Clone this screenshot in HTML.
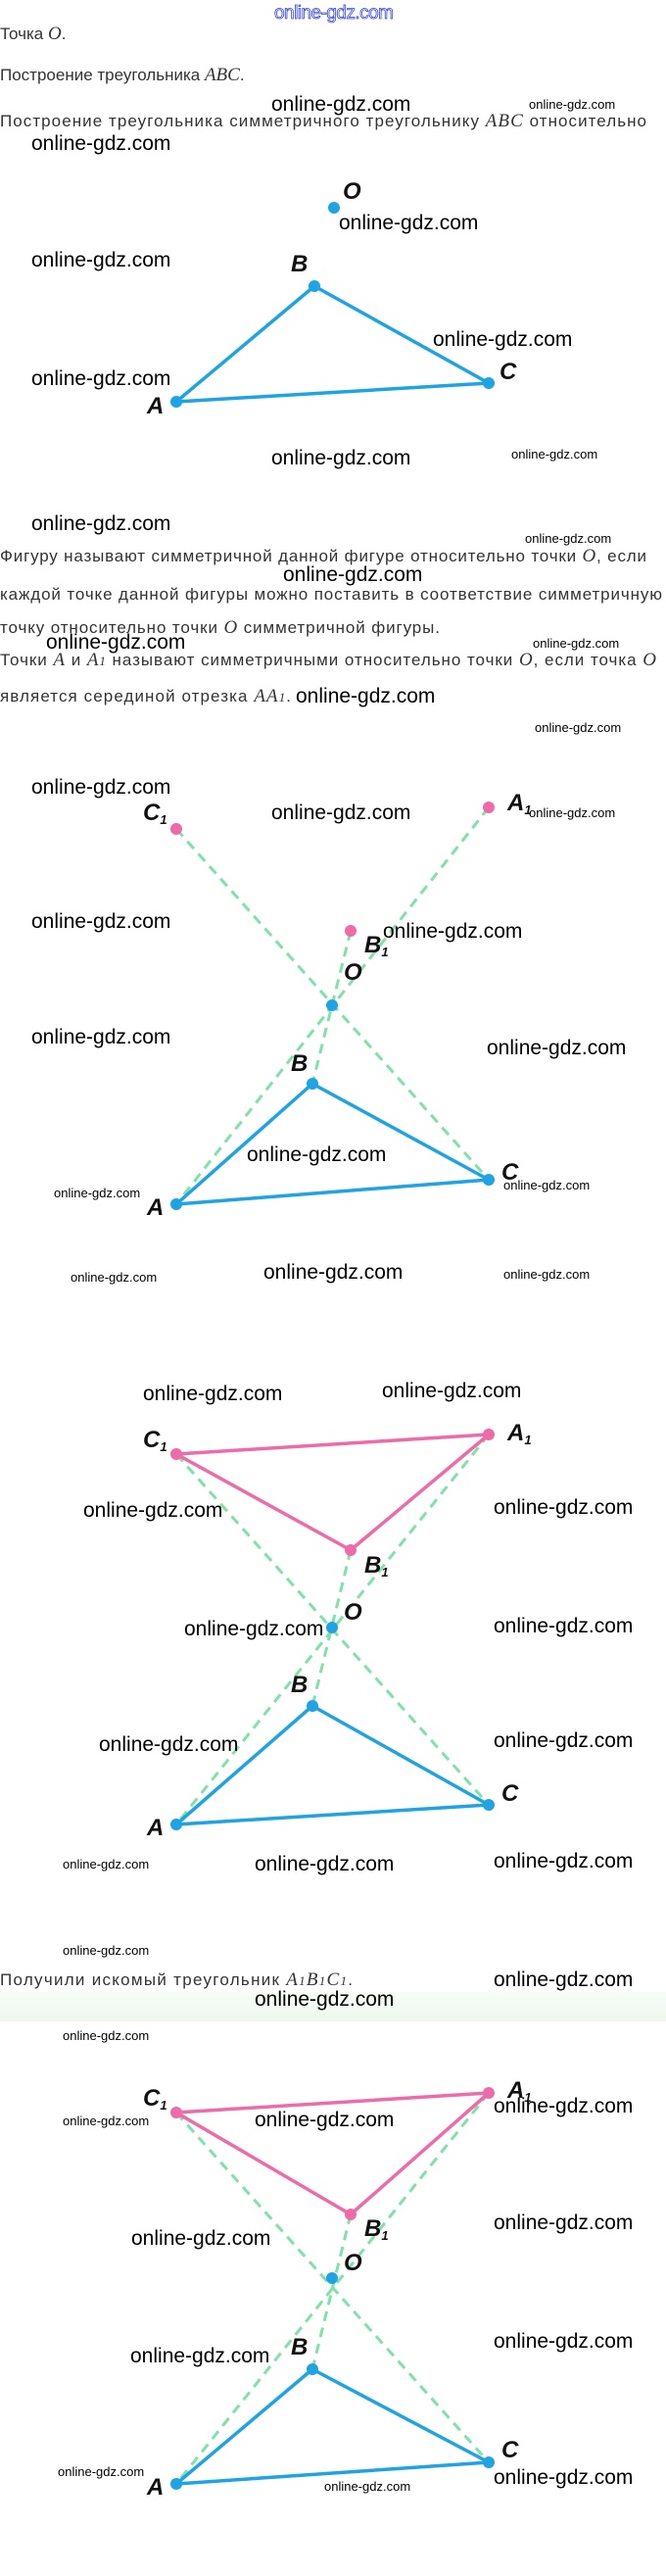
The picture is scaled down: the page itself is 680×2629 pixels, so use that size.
<!DOCTYPE html>
<html><head><meta charset="utf-8"><style>
html,body{margin:0;padding:0;background:#fff;}
svg{display:block;}
.t{font-family:"Liberation Sans",sans-serif;font-size:17px;fill:#333;}
.m{font-family:"Liberation Serif",serif;font-style:italic;}
.w{font-family:"Liberation Sans",sans-serif;font-size:21px;fill:#000;}
.s{font-family:"Liberation Sans",sans-serif;font-size:13px;fill:#000;}
.L{font-family:"Liberation Sans",sans-serif;font-weight:bold;font-style:italic;font-size:24px;fill:#111;}
.sub{font-size:13px;}
.blue{stroke:#1ea3e4;stroke-width:3.5;fill:none;stroke-linejoin:round;}
.pink{stroke:#ee6aa8;stroke-width:3.5;fill:none;stroke-linejoin:round;}
.dash{stroke:#7fe2a8;stroke-width:3;stroke-dasharray:10 7;fill:none;}
.bd{fill:#1ea3e4;}
.pd{fill:#ee6aa8;}
</style></head><body>
<svg width="680" height="2629" viewBox="0 0 680 2629" xmlns="http://www.w3.org/2000/svg">
<defs><linearGradient id="g" x1="0" y1="0" x2="0" y2="1"><stop offset="0" stop-color="#f7fcf7"/><stop offset="1" stop-color="#eef8ef"/></linearGradient></defs>
<text x="280" y="19" font-family="Liberation Sans,sans-serif" font-size="19" fill="#fff" stroke="#3344dd" stroke-width="0.8" textLength="122">online-gdz.com</text>

<text class="t" x="0" y="40">Точка <tspan class="m" font-size="19">O</tspan>.</text>
<text class="t" x="0" y="82">Построение треугольника <tspan class="m" font-size="19">ABC</tspan>.</text>
<text class="t" x="0" y="129" textLength="660">Построение треугольника симметричного треугольнику <tspan class="m" font-size="19">ABC</tspan> относительно</text>

<!-- fig1 -->
<polygon class="blue" points="180,410 321,292 499,391"/>
<circle class="bd" cx="341" cy="212" r="6"/><circle class="bd" cx="321" cy="292" r="6"/><circle class="bd" cx="180" cy="410" r="6"/><circle class="bd" cx="499" cy="391" r="6"/>
<text class="L" x="350" y="203">O</text><text class="L" x="297" y="277">B</text><text class="L" x="150" y="422">A</text><text class="L" x="510" y="387">C</text>
<text class="w" x="277" y="113">online-gdz.com</text><text class="s" x="540" y="111">online-gdz.com</text>
<text class="w" x="32" y="153">online-gdz.com</text><text class="w" x="346" y="234">online-gdz.com</text>
<text class="w" x="32" y="272">online-gdz.com</text><text class="w" x="442" y="353">online-gdz.com</text>
<text class="w" x="32" y="393">online-gdz.com</text><text class="w" x="277" y="474">online-gdz.com</text>
<text class="s" x="522" y="468">online-gdz.com</text>

<!-- paragraph -->
<text class="w" x="32" y="541">online-gdz.com</text>
<text class="s" x="536" y="554">online-gdz.com</text>
<text class="t" x="0" y="573" textLength="660">Фигуру называют симметричной данной фигуре относительно точки <tspan class="m" font-size="19">O</tspan>, если</text>
<text class="w" x="289" y="593">online-gdz.com</text>
<text class="t" x="0" y="612" textLength="676">каждой точке данной фигуры можно поставить в соответствие симметричную</text>
<text class="t" x="0" y="646" textLength="449">точку относительно точки <tspan class="m" font-size="19">O</tspan> симметричной фигуры.</text>
<text class="w" x="47" y="662">online-gdz.com</text><text class="s" x="544" y="661">online-gdz.com</text>
<text class="t" x="0" y="679" textLength="670">Точки <tspan class="m" font-size="19">A</tspan> и <tspan class="m" font-size="19">A</tspan><tspan class="m sub">1</tspan> называют симметричными относительно точки <tspan class="m" font-size="19">O</tspan>, если точка <tspan class="m" font-size="19">O</tspan></text>
<text class="t" x="0" y="716" textLength="297">является серединой отрезка <tspan class="m" font-size="19">AA</tspan><tspan class="m sub">1</tspan>.</text>
<text class="w" x="302" y="717">online-gdz.com</text>
<text class="s" x="546" y="747">online-gdz.com</text>

<!-- fig2 -->
<line class="dash" x1="180" y1="846" x2="499" y2="1204"/>
<line class="dash" x1="499" y1="824" x2="180" y2="1229"/>
<line class="dash" x1="358" y1="950" x2="319" y2="1106"/>
<polygon class="blue" points="180,1229 319,1106 499,1204"/>
<circle class="pd" cx="180" cy="846" r="6"/><circle class="pd" cx="499" cy="824" r="6"/><circle class="pd" cx="358" cy="950" r="6"/>
<circle class="bd" cx="339" cy="1026" r="6"/><circle class="bd" cx="319" cy="1106" r="6"/><circle class="bd" cx="180" cy="1229" r="6"/><circle class="bd" cx="499" cy="1204" r="6"/>
<text class="L" x="146" y="837">C<tspan class="sub" dy="4">1</tspan></text>
<text class="L" x="518" y="827">A<tspan class="sub" dy="4">1</tspan></text>
<text class="L" x="372" y="972">B<tspan class="sub" dy="4">1</tspan></text>
<text class="L" x="351" y="1000">O</text><text class="L" x="297" y="1093">B</text><text class="L" x="150" y="1240">A</text><text class="L" x="512" y="1204">C</text>
<text class="w" x="32" y="810">online-gdz.com</text><text class="w" x="277" y="836">online-gdz.com</text><text class="s" x="540" y="834">online-gdz.com</text>
<text class="w" x="32" y="947">online-gdz.com</text><text class="w" x="391" y="957">online-gdz.com</text>
<text class="w" x="32" y="1065">online-gdz.com</text><text class="w" x="497" y="1076">online-gdz.com</text>
<text class="w" x="252" y="1185">online-gdz.com</text><text class="s" x="55" y="1222">online-gdz.com</text><text class="s" x="514" y="1214">online-gdz.com</text>
<text class="s" x="72" y="1308">online-gdz.com</text><text class="w" x="269" y="1305">online-gdz.com</text><text class="s" x="514" y="1305">online-gdz.com</text>

<!-- fig3 -->
<line class="dash" x1="180" y1="1484" x2="499" y2="1842"/>
<line class="dash" x1="499" y1="1464" x2="180" y2="1862"/>
<line class="dash" x1="358" y1="1582" x2="319" y2="1741"/>
<polygon class="pink" points="180,1484 499,1464 358,1582"/>
<polygon class="blue" points="180,1862 319,1741 499,1842"/>
<circle class="pd" cx="180" cy="1484" r="6"/><circle class="pd" cx="499" cy="1464" r="6"/><circle class="pd" cx="358" cy="1582" r="6"/>
<circle class="bd" cx="339" cy="1661" r="6"/><circle class="bd" cx="319" cy="1741" r="6"/><circle class="bd" cx="180" cy="1862" r="6"/><circle class="bd" cx="499" cy="1842" r="6"/>
<text class="L" x="146" y="1477">C<tspan class="sub" dy="4">1</tspan></text>
<text class="L" x="518" y="1470">A<tspan class="sub" dy="4">1</tspan></text>
<text class="L" x="372" y="1605">B<tspan class="sub" dy="4">1</tspan></text>
<text class="L" x="351" y="1653">O</text><text class="L" x="297" y="1727">B</text><text class="L" x="150" y="1873">A</text><text class="L" x="512" y="1838">C</text>
<text class="w" x="146" y="1429">online-gdz.com</text><text class="w" x="390" y="1426">online-gdz.com</text>
<text class="w" x="85" y="1548">online-gdz.com</text><text class="w" x="504" y="1545">online-gdz.com</text>
<text class="w" x="188" y="1669">online-gdz.com</text><text class="w" x="504" y="1666">online-gdz.com</text>
<text class="w" x="101" y="1787">online-gdz.com</text><text class="w" x="504" y="1783">online-gdz.com</text>
<text class="s" x="64" y="1907">online-gdz.com</text><text class="w" x="260" y="1909">online-gdz.com</text><text class="w" x="504" y="1906">online-gdz.com</text>
<text class="s" x="64" y="1995">online-gdz.com</text>

<!-- fig4 -->
<rect x="0" y="2033" width="680" height="30" fill="url(#g)"/>
<text class="t" x="0" y="2026" textLength="360">Получили искомый треугольник <tspan class="m" font-size="19">A</tspan><tspan class="m sub">1</tspan><tspan class="m" font-size="19">B</tspan><tspan class="m sub">1</tspan><tspan class="m" font-size="19">C</tspan><tspan class="m sub">1</tspan>.</text>
<text class="w" x="504" y="2027">online-gdz.com</text><text class="w" x="260" y="2047">online-gdz.com</text>
<text class="s" x="64" y="2082">online-gdz.com</text>
<line class="dash" x1="180" y1="2156" x2="499" y2="2513"/>
<line class="dash" x1="499" y1="2136" x2="180" y2="2535"/>
<line class="dash" x1="358" y1="2260" x2="319" y2="2418"/>
<polygon class="pink" points="180,2156 499,2136 358,2260"/>
<polygon class="blue" points="180,2535 319,2418 499,2513"/>
<circle class="pd" cx="180" cy="2156" r="6"/><circle class="pd" cx="499" cy="2136" r="6"/><circle class="pd" cx="358" cy="2260" r="6"/>
<circle class="bd" cx="339" cy="2325" r="6"/><circle class="bd" cx="319" cy="2418" r="6"/><circle class="bd" cx="180" cy="2535" r="6"/><circle class="bd" cx="499" cy="2513" r="6"/>
<text class="L" x="146" y="2149">C<tspan class="sub" dy="4">1</tspan></text>
<text class="L" x="518" y="2141">A<tspan class="sub" dy="4">1</tspan></text>
<text class="L" x="372" y="2282">B<tspan class="sub" dy="4">1</tspan></text>
<text class="L" x="351" y="2317">O</text><text class="L" x="297" y="2403">B</text><text class="L" x="150" y="2546">A</text><text class="L" x="512" y="2508">C</text>
<text class="w" x="504" y="2156">online-gdz.com</text><text class="s" x="64" y="2169">online-gdz.com</text><text class="w" x="260" y="2170">online-gdz.com</text>
<text class="w" x="504" y="2275">online-gdz.com</text><text class="w" x="134" y="2291">online-gdz.com</text>
<text class="w" x="504" y="2396">online-gdz.com</text><text class="w" x="133" y="2411">online-gdz.com</text>
<text class="s" x="59" y="2527">online-gdz.com</text><text class="w" x="504" y="2535">online-gdz.com</text><text class="s" x="331" y="2542">online-gdz.com</text>
</svg>
</body></html>
